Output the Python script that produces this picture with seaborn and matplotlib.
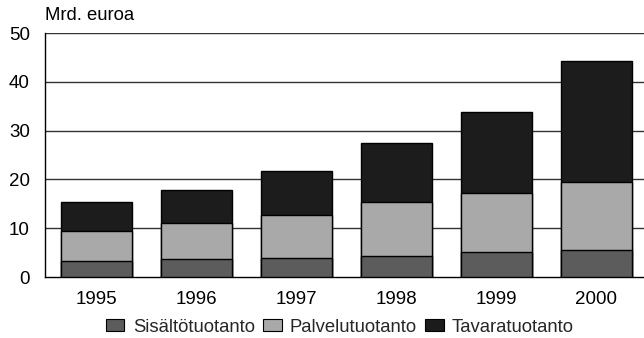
import matplotlib
matplotlib.use("Agg")
import matplotlib.pyplot as plt
import seaborn as sns
import pandas as pd
import numpy as np
from matplotlib.patches import Patch

years = ["1995", "1996", "1997", "1998", "1999", "2000"]
sisalto = [3.3, 3.7, 3.9, 4.3, 5.2, 5.5]
palvelu = [6.1, 7.3, 8.8, 11.0, 12.0, 13.9]
tavara = [5.9, 6.9, 9.0, 12.2, 16.7, 24.8]
series_names = ["Sisältötuotanto", "Palvelutuotanto", "Tavaratuotanto"]
colors = ["#5c5c5c", "#a9a9a9", "#1c1c1c"]
yticks = [0, 10, 20, 30, 40, 50]

sns.set_theme(style="white")
plt.rcParams['font.family'] = ['Liberation Sans', 'DejaVu Sans']

c1 = np.array(sisalto)
c2 = c1 + np.array(palvelu)
c3 = c2 + np.array(tavara)
df = pd.DataFrame({"year": years, "c1": c1, "c2": c2, "c3": c3})

fig = plt.figure(figsize=(6.44, 3.38), dpi=100)
ax = fig.add_axes([45/644, (338-277)/338, 1 - 45/644, (277-33)/338])

for col, color in zip(["c3", "c2", "c1"], [colors[2], colors[1], colors[0]]):
    sns.barplot(data=df, x="year", y=col, color=color, width=0.71,
                edgecolor="black", linewidth=1.0, saturation=1, ax=ax, zorder=3)

ax.set_ylim(0, 50)
ax.set_xlim(-0.51, 5.48)
ax.set_yticks(yticks)
ax.set_yticklabels([str(v) for v in yticks])
ax.set_xlabel("")
ax.set_ylabel("")
for v in yticks[1:]:
    ax.axhline(v, color="#333333", linewidth=1.0, zorder=1)
for s in ["top", "right"]:
    ax.spines[s].set_visible(False)
ax.spines["left"].set_color("black")
ax.spines["bottom"].set_color("black")
ax.spines["left"].set_linewidth(1.0)
ax.spines["bottom"].set_linewidth(1.0)
ax.tick_params(axis="both", which="both", direction="out", length=7, width=1,
               color="black", labelsize=13.5, labelcolor="black")
ax.tick_params(axis="y", pad=4)
ax.tick_params(axis="x", pad=3)

fig.text(45/644, 1 - 16/338, "Mrd. euroa", fontsize=13.3, ha="left", va="center", color="black")

handles = [Patch(facecolor=c, edgecolor="black", linewidth=0.8) for c in colors]
fig.legend(handles, series_names, loc="center", bbox_to_anchor=(340/644, 1 - 327/338),
           ncol=3, frameon=False, fontsize=13.3, handlelength=1.0, handleheight=0.6,
           handletextpad=0.45, columnspacing=0.45)

fig.savefig("out.png", dpi=100)
